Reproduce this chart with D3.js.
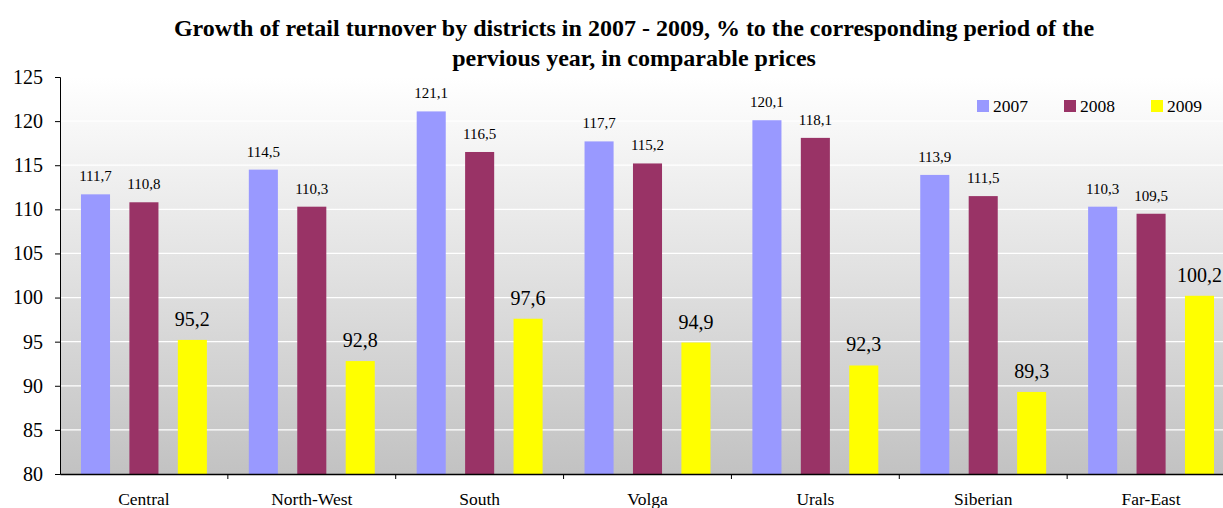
<!DOCTYPE html>
<html><head><meta charset="utf-8">
<script src="https://cdn.jsdelivr.net/npm/d3@7"></script>
<style>body{margin:0;background:#fff}svg{display:block;font-family:"Liberation Serif","Times New Roman",serif}</style>
</head><body>
<svg id="c" width="1223" height="508"></svg>
<script>
const categories = ["Central","North-West","South","Volga","Urals","Siberian","Far-East"];
const seriesNames = ["2007","2008","2009"];
const v2007 = [111.7,114.5,121.1,117.7,120.1,113.9,110.3];
const v2008 = [110.8,110.3,116.5,115.2,118.1,111.5,109.5];
const v2009 = [95.2,92.8,97.6,94.9,92.3,89.3,100.2];
const yTicks = [80,85,90,95,100,105,110,115,120,125];
const colors = ["#9999ff","#993366","#ffff00"];
const series = [v2007,v2008,v2009];

(function(){
const FF = "Liberation Serif, Times New Roman, serif";
const svg = d3.select("#c");
const pL = 60, pR = 1235, pT = 77, pB = 474;
const defs = svg.append("defs");
const g = defs.append("linearGradient").attr("id","bg").attr("x1",0).attr("y1",0).attr("x2",0).attr("y2",1);
g.append("stop").attr("offset","0%").attr("stop-color","#ffffff");
g.append("stop").attr("offset","100%").attr("stop-color","#c2c2c2");

const x = d3.scaleBand().domain(categories).range([pL,pR]);
const xs = d3.scaleBand().domain(seriesNames).range([0,x.bandwidth()]).paddingInner(0.4).paddingOuter(0.433);
const y = d3.scaleLinear().domain([80,125]).range([pB,pT]);

svg.append("rect").attr("x",pL).attr("y",pT).attr("width",pR-pL).attr("height",pB-pT).attr("fill","url(#bg)");
svg.append("g").selectAll("line").data(yTicks.slice(1)).join("line")
  .attr("x1",pL).attr("x2",pR).attr("y1",d=>y(d)).attr("y2",d=>y(d))
  .attr("stroke","#ffffff").attr("stroke-width",1.2);

series.forEach((vals,si)=>{
  const gs = svg.append("g");
  gs.selectAll("rect").data(vals).join("rect")
    .attr("x",(d,i)=>x(categories[i])+xs(seriesNames[si]))
    .attr("width",xs.bandwidth())
    .attr("y",d=>y(d)).attr("height",d=>pB-y(d))
    .attr("fill",colors[si]);
  gs.selectAll("text").data(vals).join("text")
    .attr("x",(d,i)=>x(categories[i])+xs(seriesNames[si])+xs.bandwidth()/2)
    .attr("y",d=>y(d)-(si===2?14:13))
    .attr("text-anchor","middle")
    .attr("font-family",FF)
    .attr("font-size",si===2?20:15)
    .attr("fill","#000")
    .text(d=>d.toFixed(1).replace(".",","));
});

const yAxis = d3.axisLeft(y).tickValues(yTicks).tickSize(5).tickPadding(12);
const ya = svg.append("g").attr("transform",`translate(${pL},0)`).call(yAxis);
ya.selectAll("text").attr("font-size",20).attr("font-family",FF).attr("fill","#000");
ya.selectAll("line,path").attr("stroke","#000");

const xAxis = d3.axisBottom(x).tickSize(0).tickPadding(19);
const xa = svg.append("g").attr("transform",`translate(0,${pB})`).call(xAxis);
xa.select("path").attr("stroke","#000").attr("stroke-width",1.5);
xa.selectAll("text").attr("font-size",17.5).attr("font-family",FF).attr("fill","#000");
svg.append("g").selectAll("line").data(categories.slice(1)).join("line")
  .attr("x1",d=>x(d)).attr("x2",d=>x(d)).attr("y1",pB).attr("y2",pB+5).attr("stroke","#000");

const lx = [977,1064,1151];
seriesNames.forEach((s,i)=>{
  svg.append("rect").attr("x",lx[i]).attr("y",100).attr("width",12).attr("height",12).attr("fill",colors[i]);
  svg.append("text").attr("x",lx[i]+16).attr("y",112).attr("font-size",17.5).attr("font-family",FF).text(s);
});

const title = ["Growth of retail turnover by districts in 2007 - 2009, % to the corresponding period of the","pervious year, in comparable prices"];
svg.append("g").selectAll("text").data(title).join("text")
  .attr("x",634).attr("y",(d,i)=>36+i*30).attr("text-anchor","middle")
  .attr("font-family",FF)
  .attr("font-size",24).attr("font-weight","bold").text(d=>d);
})();
</script>
</body></html>
